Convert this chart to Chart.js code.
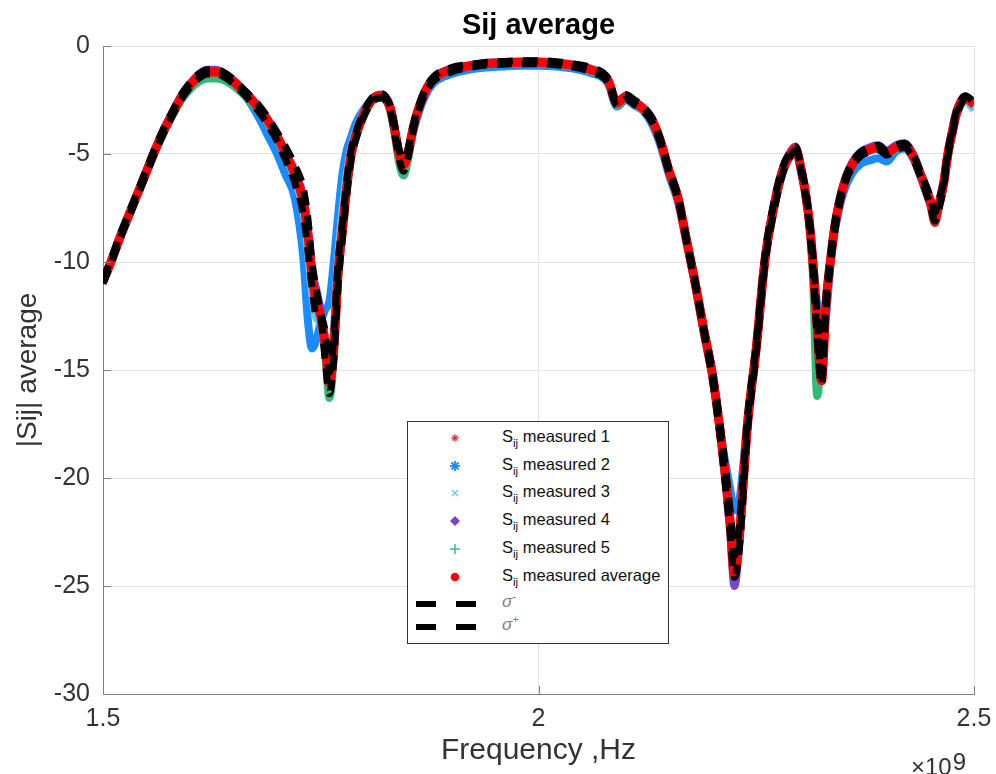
<!DOCTYPE html>
<html>
<head>
<meta charset="utf-8">
<title>Sij average</title>
<script src="https://cdn.jsdelivr.net/npm/chart.js@4.4.1/dist/chart.umd.min.js"></script>
<style>
  html, body { margin: 0; padding: 0; background: #fff; }
  #wrap { position: relative; width: 996px; height: 774px; overflow: hidden; }
  #plot { position: absolute; left: 0; top: 0; }
  #title {
    position: absolute; left: 103px; width: 871px; top: 7px; line-height: 34px;
    text-align: center; font-family: "Liberation Sans", Arial, sans-serif;
    font-size: 29px; font-weight: bold; color: #000;
  }
  #legend {
    position: absolute; left: 407px; top: 421px; width: 262px; height: 223px;
    box-sizing: border-box; border: 1px solid #333; background: #fff;
    font-family: "Liberation Sans", Arial, sans-serif; font-size: 16.5px; color: #111;
  }
  #legend .row { position: absolute; left: 0; width: 100%; height: 20px; line-height: 20px; }
  #legend .mk { position: absolute; left: 40px; top: 3px; width: 14px; height: 14px; }
  #legend .dash { position: absolute; top: 7px; width: 20px; height: 6px; background: #000; }
  #legend .txt { position: absolute; left: 94px; top: -2px; white-space: nowrap; }
  #legend sub { font-size: 11.5px; vertical-align: -5px; line-height: 0; }
  #legend .sig { font-style: italic; color: #808080; font-size: 17px; }
  #legend .sig sup { font-size: 11px; vertical-align: 7px; line-height: 0; }
  #exp {
    position: absolute; left: 911px; top: 755px; line-height: 24px;
    font-family: "Liberation Sans", Arial, sans-serif; font-size: 24px; color: #333;
  }
  #exp span { position: relative; top: -5px; margin-left: 1px; font-size: 24px; }
</style>
</head>
<body>
<div id="wrap">
  <canvas id="plot" width="996" height="774"></canvas>
  <div id="title">Sij average</div>
  <div id="legend"></div>
  <div id="exp">&times;10<span>9</span></div>
</div>
<script>
(function () {
  "use strict";

  // frequency in GHz (axis is labelled in units of 10^9 Hz)
  var freq = [
    1.50, 1.51, 1.52, 1.53, 1.54, 1.55, 1.56, 1.57, 1.58, 1.59,
    1.60, 1.61, 1.62, 1.63, 1.64, 1.65, 1.66, 1.67, 1.68, 1.69,
    1.70, 1.71, 1.72, 1.73, 1.735, 1.74, 1.745, 1.75, 1.755, 1.76,
    1.765, 1.77, 1.775, 1.78, 1.785, 1.79, 1.80, 1.81, 1.82, 1.83,
    1.835, 1.84, 1.845, 1.85, 1.855, 1.86, 1.87, 1.88, 1.90, 1.92,
    1.94, 1.96, 1.98, 2.00, 2.02, 2.04, 2.06, 2.08, 2.09, 2.10,
    2.11, 2.12, 2.13, 2.14, 2.15, 2.16, 2.17, 2.18, 2.19, 2.20,
    2.21, 2.22, 2.225, 2.23, 2.24, 2.25, 2.26, 2.27, 2.28, 2.29,
    2.295, 2.30, 2.31, 2.315, 2.32, 2.325, 2.33, 2.335, 2.34, 2.35,
    2.36, 2.37, 2.38, 2.39, 2.40, 2.41, 2.42, 2.43, 2.44, 2.45,
    2.455, 2.46, 2.465, 2.47, 2.475, 2.48, 2.49, 2.50
  ];

  var measured1 = [
    -10.9, -9.9, -8.8, -7.8, -6.8, -5.8, -4.8, -3.9, -3.1, -2.35,
    -1.8, -1.4, -1.15, -1.15, -1.3, -1.6, -2.0, -2.45, -2.95, -3.5,
    -4.2, -5.0, -5.9, -7.1, -8.5, -10.4, -11.8, -12.4, -13.6, -15.0,
    -13.8, -10.4, -8.4, -6.5, -5.0, -4.2, -3.1, -2.45, -2.3, -2.9,
    -3.9, -5.0, -5.5, -5.0, -4.0, -3.2, -2.1, -1.5, -1.1, -0.93,
    -0.82, -0.78, -0.75, -0.75, -0.8, -0.9, -1.1, -1.6, -2.6, -2.35,
    -2.6, -2.9, -3.4, -4.4, -5.8, -7.0, -9.0, -11.0, -13.2, -15.3,
    -18.3, -22.0, -24.0, -22.8, -17.5, -14.0, -9.9, -7.5, -5.8, -4.95,
    -4.75, -5.4, -7.8, -10.0, -13.0, -15.3, -12.0, -10.0, -8.4, -6.5,
    -5.5, -5.0, -4.8, -4.7, -4.95, -4.7, -4.6, -5.1, -6.2, -7.4,
    -8.2, -7.4, -6.4, -5.0, -4.0, -3.1, -2.4, -2.7
  ];

  var measured2 = [
    -10.9, -9.9, -8.8, -7.8, -6.8, -5.8, -4.8, -3.9, -3.1, -2.4,
    -1.85, -1.45, -1.25, -1.25, -1.45, -1.8, -2.15, -2.7, -3.4, -4.2,
    -5.0, -6.0, -7.0, -9.8, -12.6, -14.0, -13.6, -12.8, -12.2, -11.8,
    -10.0, -7.8, -5.9, -4.8, -4.2, -3.6, -2.9, -2.45, -2.4, -3.0,
    -4.0, -5.1, -5.7, -5.2, -4.2, -3.4, -2.3, -1.7, -1.3, -1.1,
    -1.0, -0.95, -0.92, -0.92, -0.95, -1.05, -1.25, -1.75, -2.8, -2.5,
    -2.75, -3.0, -3.6, -4.6, -6.0, -7.2, -9.1, -11.1, -13.3, -15.4,
    -18.2, -20.5, -21.5, -21.2, -17.3, -13.9, -9.9, -7.6, -5.9, -5.05,
    -4.85, -5.5, -7.8, -9.8, -12.0, -13.0, -12.5, -10.2, -8.6, -6.8,
    -5.9, -5.45, -5.3, -5.2, -5.35, -4.9, -4.75, -5.2, -6.2, -7.3,
    -7.9, -7.3, -6.5, -5.1, -4.1, -3.2, -2.5, -2.8
  ];

  var measured3 = [
    -10.9, -9.9, -8.8, -7.8, -6.8, -5.8, -4.8, -3.9, -3.1, -2.35,
    -1.8, -1.4, -1.2, -1.2, -1.35, -1.65, -2.05, -2.5, -3.0, -3.6,
    -4.3, -5.1, -6.1, -7.6, -9.4, -11.4, -12.6, -12.8, -13.4, -14.8,
    -13.0, -9.8, -7.6, -5.9, -4.7, -4.0, -3.0, -2.4, -2.3, -2.9,
    -3.9, -5.0, -5.5, -5.0, -4.0, -3.2, -2.1, -1.5, -1.1, -0.95,
    -0.85, -0.8, -0.78, -0.78, -0.82, -0.92, -1.15, -1.65, -2.7, -2.4,
    -2.65, -2.95, -3.45, -4.45, -5.85, -7.0, -9.0, -11.0, -13.2, -15.3,
    -18.3, -21.8, -23.5, -22.6, -17.5, -14.0, -9.9, -7.5, -5.8, -4.9,
    -4.7, -5.4, -7.8, -10.0, -12.8, -14.5, -12.2, -10.1, -8.4, -6.5,
    -5.5, -5.05, -4.85, -4.75, -5.0, -4.75, -4.65, -5.15, -6.1, -7.2,
    -7.8, -7.2, -6.3, -5.0, -4.0, -3.15, -2.55, -2.95
  ];

  var measured4 = [
    -10.9, -9.9, -8.8, -7.8, -6.8, -5.8, -4.8, -3.85, -3.05, -2.3,
    -1.75, -1.3, -1.1, -1.1, -1.3, -1.6, -2.0, -2.4, -2.9, -3.45,
    -4.15, -4.95, -5.8, -7.0, -8.4, -10.4, -11.3, -12.3, -14.0, -15.2,
    -13.6, -10.3, -8.3, -6.4, -4.9, -4.1, -3.05, -2.4, -2.25, -2.85,
    -3.85, -4.95, -5.45, -4.95, -3.95, -3.15, -2.05, -1.45, -1.05, -0.9,
    -0.78, -0.74, -0.72, -0.72, -0.77, -0.87, -1.05, -1.55, -2.6, -2.3,
    -2.55, -2.85, -3.35, -4.35, -5.75, -6.95, -8.95, -10.9, -13.1, -15.2,
    -18.4, -22.5, -25.0, -23.3, -17.6, -14.0, -9.9, -7.4, -5.7, -4.85,
    -4.65, -5.3, -7.7, -9.9, -13.1, -15.3, -11.8, -9.9, -8.3, -6.4,
    -5.4, -4.9, -4.7, -4.6, -4.85, -4.6, -4.5, -5.0, -6.0, -7.1,
    -7.8, -7.2, -6.3, -4.9, -3.9, -3.0, -2.35, -2.65
  ];

  var measured5 = [
    -10.9, -9.9, -8.8, -7.85, -6.85, -5.85, -4.9, -4.0, -3.2, -2.5,
    -2.0, -1.65, -1.5, -1.5, -1.6, -1.85, -2.2, -2.6, -3.05, -3.6,
    -4.3, -5.1, -6.0, -7.3, -8.7, -10.7, -12.0, -12.7, -14.2, -16.3,
    -14.3, -10.7, -8.6, -6.6, -5.1, -4.3, -3.2, -2.5, -2.35, -3.0,
    -4.1, -5.4, -6.0, -5.3, -4.1, -3.25, -2.15, -1.55, -1.12, -0.95,
    -0.84, -0.8, -0.77, -0.77, -0.82, -0.93, -1.15, -1.7, -2.75, -2.4,
    -2.65, -2.95, -3.45, -4.45, -5.85, -7.05, -9.05, -11.05, -13.25, -15.35,
    -18.3, -22.0, -24.2, -22.9, -17.5, -14.0, -9.9, -7.5, -5.85, -5.0,
    -4.8, -5.45, -7.9, -10.5, -16.2, -14.0, -11.8, -10.0, -8.4, -6.55,
    -5.55, -5.05, -4.85, -4.75, -5.0, -4.75, -4.65, -5.15, -6.15, -7.25,
    -7.95, -7.35, -6.45, -5.05, -4.05, -3.15, -2.45, -2.75
  ];

  var average = [
    -10.9, -9.9, -8.8, -7.8, -6.8, -5.8, -4.8, -3.9, -3.1, -2.35,
    -1.8, -1.4, -1.2, -1.2, -1.35, -1.65, -2.05, -2.45, -2.95, -3.5,
    -4.2, -5.0, -5.9, -7.2, -8.6, -10.6, -11.9, -12.5, -13.8, -15.6,
    -14.0, -10.5, -8.5, -6.5, -5.0, -4.2, -3.1, -2.45, -2.3, -2.9,
    -3.9, -5.0, -5.5, -5.0, -4.0, -3.2, -2.1, -1.5, -1.1, -0.93,
    -0.82, -0.78, -0.75, -0.75, -0.8, -0.9, -1.1, -1.6, -2.65, -2.35,
    -2.6, -2.9, -3.4, -4.4, -5.8, -7.0, -9.0, -11.0, -13.2, -15.3,
    -18.3, -22.0, -24.5, -23.0, -17.5, -14.0, -9.9, -7.5, -5.8, -4.95,
    -4.75, -5.4, -7.8, -10.0, -13.0, -15.5, -12.0, -10.0, -8.4, -6.5,
    -5.5, -5.0, -4.8, -4.7, -4.95, -4.7, -4.6, -5.1, -6.1, -7.2,
    -7.9, -7.3, -6.4, -5.0, -4.0, -3.1, -2.4, -2.7
  ];

  var sigmaMinus = [
    -11.0, -10.0, -8.9, -7.9, -6.9, -5.9, -4.9, -4.0, -3.2, -2.45,
    -1.9, -1.5, -1.3, -1.3, -1.45, -1.75, -2.15, -2.6, -3.1, -3.7,
    -4.4, -5.3, -6.3, -7.8, -9.4, -11.2, -12.5, -12.6, -14.5, -16.1,
    -14.5, -11.0, -8.8, -6.8, -5.2, -4.35, -3.2, -2.55, -2.4, -3.0,
    -4.1, -5.2, -5.8, -5.2, -4.15, -3.3, -2.2, -1.6, -1.2, -1.0,
    -0.88, -0.84, -0.82, -0.82, -0.87, -0.97, -1.2, -1.7, -2.75, -2.45,
    -2.7, -3.0, -3.5, -4.5, -5.9, -7.1, -9.1, -11.1, -13.3, -15.5,
    -18.6, -22.5, -24.6, -23.5, -17.8, -14.2, -10.1, -7.7, -5.95, -5.05,
    -4.85, -5.5, -8.0, -10.3, -13.5, -15.7, -12.3, -10.2, -8.6, -6.6,
    -5.6, -5.1, -4.9, -4.8, -5.05, -4.8, -4.7, -5.2, -6.2, -7.4,
    -8.1, -7.5, -6.5, -5.1, -4.1, -3.2, -2.5, -2.8
  ];

  var sigmaPlus = [
    -10.8, -9.8, -8.7, -7.7, -6.7, -5.7, -4.7, -3.8, -3.0, -2.25,
    -1.7, -1.3, -1.1, -1.1, -1.25, -1.55, -1.95, -2.35, -2.8, -3.35,
    -4.0, -4.7, -5.5, -6.6, -7.9, -10.0, -11.3, -12.4, -13.2, -15.1,
    -13.5, -10.0, -8.2, -6.2, -4.8, -4.05, -3.0, -2.35, -2.2, -2.8,
    -3.7, -4.8, -5.2, -4.8, -3.85, -3.1, -2.0, -1.4, -1.0, -0.86,
    -0.76, -0.72, -0.68, -0.68, -0.73, -0.83, -1.0, -1.5, -2.55, -2.25,
    -2.5, -2.8, -3.3, -4.3, -5.7, -6.9, -8.9, -10.9, -13.1, -15.1,
    -18.0, -21.5, -23.6, -22.5, -17.2, -13.8, -9.7, -7.3, -5.65, -4.85,
    -4.65, -5.3, -7.6, -9.7, -12.5, -15.2, -11.7, -9.8, -8.2, -6.4,
    -5.4, -4.9, -4.7, -4.6, -4.85, -4.6, -4.5, -5.0, -6.0, -7.0,
    -7.7, -7.1, -6.3, -4.9, -3.9, -3.0, -2.3, -2.6
  ];

  var xTicks = [1.5, 2, 2.5];
  var yTicks = [-30, -25, -20, -15, -10, -5, 0];

  var FONT = '"Liberation Sans", Arial, sans-serif';
  var AXIS = "#808080";
  var GRID = "#e3e3e3";
  var TEXT = "#333";

  function pts(arr) {
    return freq.map(function (f, i) {
      return { x: f, y: arr[i] };
    });
  }

  function line(label, arr, color, width, order, dash) {
    return {
      label: label,
      data: pts(arr),
      borderColor: color,
      backgroundColor: color,
      borderWidth: width,
      borderDash: dash || [],
      borderCapStyle: "butt",
      pointRadius: 0,
      cubicInterpolationMode: "monotone",
      order: order,
      fill: false
    };
  }

  // inward tick marks on the left and bottom axes, like the original figure
  var innerTicks = {
    id: "innerTicks",
    afterDraw: function (chart) {
      var ctx = chart.ctx;
      var a = chart.chartArea;
      var xs = chart.scales.x;
      var ys = chart.scales.y;
      ctx.save();
      ctx.strokeStyle = AXIS;
      ctx.lineWidth = 1;
      ctx.beginPath();
      yTicks.forEach(function (v) {
        var p = Math.round(ys.getPixelForValue(v)) + 0.5;
        ctx.moveTo(a.left, p);
        ctx.lineTo(a.left + 8, p);
      });
      xTicks.forEach(function (v) {
        var p = Math.round(xs.getPixelForValue(v)) + 0.5;
        ctx.moveTo(p, a.bottom);
        ctx.lineTo(p, a.bottom - 8);
      });
      ctx.stroke();
      ctx.restore();
    }
  };

  new Chart(document.getElementById("plot"), {
    type: "line",
    data: {
      datasets: [
        line("σ+", sigmaPlus, "#000", 7, 0, [15, 10]),
        line("σ-", sigmaMinus, "#000", 7, 1, [15, 10]),
        line("Sij measured average", average, "#ff0000", 9, 2),
        line("Sij measured 5", measured5, "#35b97a", 8, 3),
        line("Sij measured 4", measured4, "#7a44d0", 8, 4),
        line("Sij measured 3", measured3, "#6cc6f0", 8, 5),
        line("Sij measured 2", measured2, "#1a8cff", 8, 6),
        line("Sij measured 1", measured1, "#cc2936", 8, 7)
      ]
    },
    options: {
      responsive: false,
      animation: false,
      devicePixelRatio: 1,
      layout: { padding: { left: 0, right: 22, top: 46, bottom: 0 } },
      plugins: {
        legend: { display: false },
        tooltip: { enabled: false },
        title: { display: false }
      },
      scales: {
        x: {
          type: "linear",
          min: 1.5,
          max: 2.5,
          afterBuildTicks: function (s) {
            s.ticks = xTicks.map(function (v) { return { value: v }; });
          },
          afterFit: function (s) {
            s.height = 80;
            s.paddingLeft = 0;
            s.paddingRight = 0;
          },
          ticks: {
            color: TEXT,
            font: { family: FONT, size: 25 },
            padding: 10,
            maxRotation: 0,
            callback: function (v) { return String(v); }
          },
          grid: { color: GRID, drawTicks: false },
          border: { color: AXIS },
          title: {
            display: true,
            text: "Frequency ,Hz",
            color: TEXT,
            font: { family: FONT, size: 30 },
            padding: { top: 0, bottom: 5 }
          }
        },
        y: {
          min: -30,
          max: 0,
          afterBuildTicks: function (s) {
            s.ticks = yTicks.map(function (v) { return { value: v }; });
          },
          afterFit: function (s) {
            s.width = 103;
            s.paddingTop = 0;
            s.paddingBottom = 0;
          },
          ticks: {
            color: TEXT,
            font: { family: FONT, size: 25 },
            padding: 13,
            callback: function (v) { return String(v); }
          },
          grid: { color: GRID, drawTicks: false },
          border: { color: AXIS },
          title: {
            display: true,
            text: "|Sij| average",
            color: TEXT,
            font: { family: FONT, size: 28 },
            padding: { top: 11, bottom: 0 }
          }
        }
      }
    },
    plugins: [innerTicks]
  });

  // legend box drawn as html over the plot
  var star = '<line x1="7" y1="2" x2="7" y2="12"/><line x1="2" y1="7" x2="12" y2="7"/>' +
    '<line x1="3.5" y1="3.5" x2="10.5" y2="10.5"/><line x1="10.5" y1="3.5" x2="3.5" y2="10.5"/>';
  var legendRows = [
    { top: 6, svg: '<g stroke="#cc2936" stroke-width="1.6" transform="translate(7 7) scale(0.75) translate(-7 -7)">' + star + '</g>', text: "measured 1" },
    { top: 34, svg: '<g stroke="#1a8cff" stroke-width="1.8">' + star + '</g>', text: "measured 2" },
    { top: 61, svg: '<g stroke="#6cc6f0" stroke-width="1.3"><line x1="4" y1="4" x2="10" y2="10"/><line x1="10" y1="4" x2="4" y2="10"/></g>', text: "measured 3" },
    { top: 89, svg: '<polygon points="7,2 12,7 7,12 2,7" fill="#7a44d0"/>', text: "measured 4" },
    { top: 117, svg: '<g stroke="#35b97a" stroke-width="1.4"><line x1="7" y1="2" x2="7" y2="12"/><line x1="2" y1="7" x2="12" y2="7"/></g>', text: "measured 5" },
    { top: 145, svg: '<circle cx="7" cy="7" r="4.3" fill="#ff0000"/>', text: "measured average" }
  ];
  var html = "";
  legendRows.forEach(function (r) {
    html += '<div class="row" style="top:' + r.top + 'px">' +
      '<svg class="mk" viewBox="0 0 14 14">' + r.svg + "</svg>" +
      '<span class="txt">S<sub>ij</sub> ' + r.text + "</span></div>";
  });
  [{ top: 172, sup: "-" }, { top: 195, sup: "+" }].forEach(function (r) {
    html += '<div class="row" style="top:' + r.top + 'px">' +
      '<div class="dash" style="left:8px"></div><div class="dash" style="left:48px"></div>' +
      '<span class="txt sig">σ<sup>' + r.sup + "</sup></span></div>";
  });
  document.getElementById("legend").innerHTML = html;
})();
</script>
</body>
</html>
